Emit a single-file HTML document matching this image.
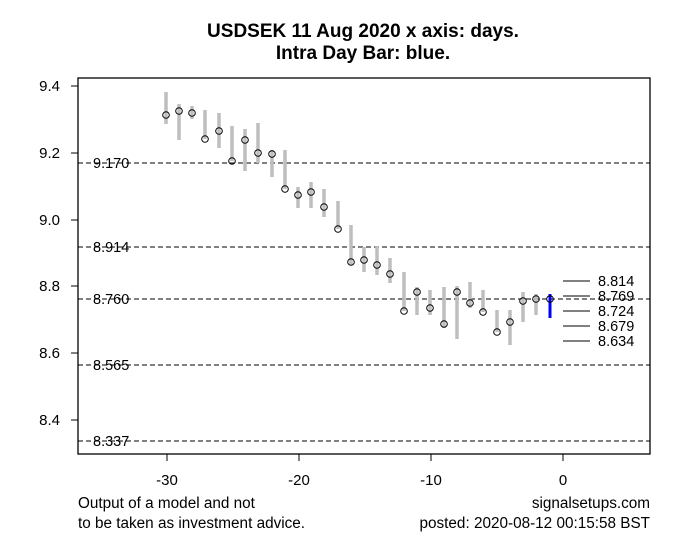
<!DOCTYPE html>
<html><head><meta charset="utf-8"><style>
body{margin:0;background:#fff}
svg{display:block}
text{font-family:"Liberation Sans",Arial,sans-serif;fill:#000}
</style></head><body>
<svg width="691" height="552" viewBox="0 0 691 552" xmlns="http://www.w3.org/2000/svg">
<rect width="691" height="552" fill="#fff"/>
<text x="363" y="37" font-size="19" font-weight="bold" text-anchor="middle">USDSEK 11 Aug 2020 x axis: days.</text>
<text x="363" y="59" font-size="19" font-weight="bold" text-anchor="middle">Intra Day Bar: blue.</text>
<rect x="78" y="78" width="572" height="376" fill="none" stroke="#000" stroke-width="1.3"/>
<g stroke="#000" stroke-width="1">
<line x1="71" y1="86" x2="78" y2="86"/><line x1="71" y1="153" x2="78" y2="153"/><line x1="71" y1="220" x2="78" y2="220"/><line x1="71" y1="286" x2="78" y2="286"/><line x1="71" y1="353" x2="78" y2="353"/><line x1="71" y1="420" x2="78" y2="420"/>
<line x1="167" y1="454" x2="167" y2="461"/><line x1="299" y1="454" x2="299" y2="461"/><line x1="431" y1="454" x2="431" y2="461"/><line x1="563" y1="454" x2="563" y2="461"/>
</g>
<g font-size="15" text-anchor="end">
<text x="60" y="91">9.4</text><text x="60" y="158">9.2</text><text x="60" y="225">9.0</text><text x="60" y="291">8.8</text><text x="60" y="358">8.6</text><text x="60" y="425">8.4</text>
</g>
<g font-size="15" text-anchor="middle">
<text x="167" y="485">-30</text><text x="299" y="485">-20</text><text x="431" y="485">-10</text><text x="563" y="485">0</text>
</g>
<g stroke="#000" stroke-dasharray="5,3" stroke-width="1">
<line x1="78" y1="163" x2="650" y2="163"/><line x1="78" y1="247" x2="650" y2="247"/><line x1="78" y1="299" x2="650" y2="299"/><line x1="78" y1="365" x2="650" y2="365"/><line x1="78" y1="441" x2="650" y2="441"/>
</g>
<g font-size="14.5">
<text x="93" y="168">9.170</text><text x="93" y="252">8.914</text><text x="93" y="304">8.760</text><text x="93" y="370">8.565</text><text x="93" y="446">8.337</text>
</g>
<g stroke="#bebebe" stroke-width="3.5">
<line x1="166" y1="92" x2="166" y2="124"/><line x1="179" y1="104" x2="179" y2="140"/><line x1="192" y1="106" x2="192" y2="119"/><line x1="205" y1="110" x2="205" y2="139"/><line x1="219" y1="113" x2="219" y2="148"/><line x1="232" y1="126" x2="232" y2="161"/><line x1="245" y1="129" x2="245" y2="171"/><line x1="258" y1="123" x2="258" y2="163"/><line x1="272" y1="150" x2="272" y2="177"/><line x1="285" y1="150" x2="285" y2="189"/><line x1="298" y1="187" x2="298" y2="208"/><line x1="311" y1="182" x2="311" y2="208"/><line x1="324" y1="189" x2="324" y2="217"/><line x1="338" y1="201" x2="338" y2="229"/><line x1="351" y1="225" x2="351" y2="265"/><line x1="364" y1="247" x2="364" y2="272"/><line x1="377" y1="246" x2="377" y2="275"/><line x1="390" y1="258" x2="390" y2="283"/><line x1="404" y1="272" x2="404" y2="311"/><line x1="417" y1="287" x2="417" y2="315"/><line x1="430" y1="290" x2="430" y2="315"/><line x1="444" y1="287" x2="444" y2="328"/><line x1="457" y1="286" x2="457" y2="339"/><line x1="470" y1="282" x2="470" y2="308"/><line x1="483" y1="290" x2="483" y2="312"/><line x1="497" y1="310" x2="497" y2="332"/><line x1="510" y1="310" x2="510" y2="345"/><line x1="523" y1="292" x2="523" y2="322"/><line x1="536" y1="294" x2="536" y2="315"/>
</g>
<line x1="550" y1="294" x2="550" y2="318" stroke="#0000ff" stroke-width="3"/>
<g fill="none" stroke="#000" stroke-width="1">
<circle cx="166" cy="115" r="3.3"/><circle cx="179" cy="111" r="3.3"/><circle cx="192" cy="113" r="3.3"/><circle cx="205" cy="139" r="3.3"/><circle cx="219" cy="131" r="3.3"/><circle cx="232" cy="161" r="3.3"/><circle cx="245" cy="140" r="3.3"/><circle cx="258" cy="153" r="3.3"/><circle cx="272" cy="154" r="3.3"/><circle cx="285" cy="189" r="3.3"/><circle cx="298" cy="195" r="3.3"/><circle cx="311" cy="192" r="3.3"/><circle cx="324" cy="207" r="3.3"/><circle cx="338" cy="229" r="3.3"/><circle cx="351" cy="262" r="3.3"/><circle cx="364" cy="260" r="3.3"/><circle cx="377" cy="265" r="3.3"/><circle cx="390" cy="274" r="3.3"/><circle cx="404" cy="311" r="3.3"/><circle cx="417" cy="292" r="3.3"/><circle cx="430" cy="308" r="3.3"/><circle cx="444" cy="324" r="3.3"/><circle cx="457" cy="292" r="3.3"/><circle cx="470" cy="303" r="3.3"/><circle cx="483" cy="312" r="3.3"/><circle cx="497" cy="332" r="3.3"/><circle cx="510" cy="322" r="3.3"/><circle cx="523" cy="301" r="3.3"/><circle cx="536" cy="299" r="3.3"/><circle cx="550" cy="299" r="3.3"/>
</g>
<g stroke="#000" stroke-width="1">
<line x1="563" y1="281" x2="590" y2="281"/><line x1="563" y1="296" x2="590" y2="296"/><line x1="563" y1="311" x2="590" y2="311"/><line x1="563" y1="326" x2="590" y2="326"/><line x1="563" y1="341" x2="590" y2="341"/>
</g>
<g font-size="14.5">
<text x="598" y="286">8.814</text><text x="598" y="301">8.769</text><text x="598" y="316">8.724</text><text x="598" y="331">8.679</text><text x="598" y="346">8.634</text>
</g>
<g font-size="15.3">
<text x="78" y="508">Output of a model and not</text>
<text x="78" y="528">to be taken as investment advice.</text>
<text x="650" y="508" text-anchor="end">signalsetups.com</text>
<text x="650" y="528" text-anchor="end">posted: 2020-08-12 00:15:58 BST</text>
</g>
</svg>
</body></html>
